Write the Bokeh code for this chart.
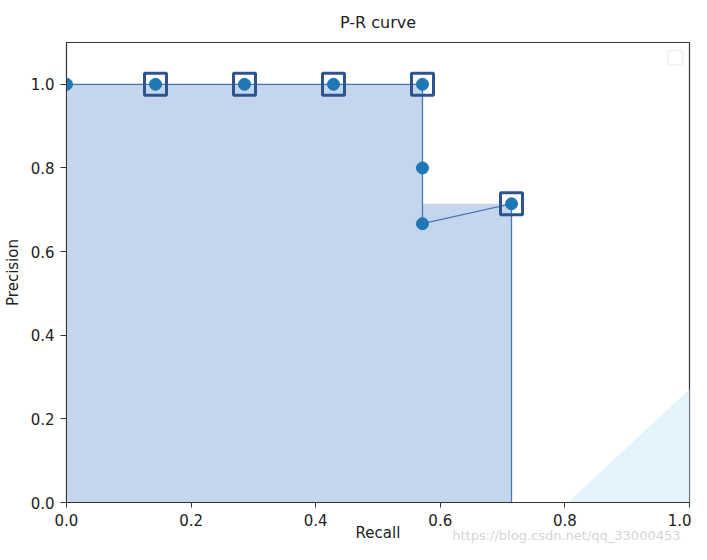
from bokeh.plotting import figure
from bokeh.embed import file_html
from bokeh.resources import INLINE
from bokeh.models import FixedTicker, Range1d, Title, BoxAnnotation, PolyAnnotation, PrintfTickFormatter

recall = [0.0, 0.1429, 0.2857, 0.4286, 0.5714, 0.5714, 0.5714, 0.7143]
precision = [1.0, 1.0, 1.0, 1.0, 1.0, 0.8, 0.6667, 0.7143]

interp_recall = [0.1429, 0.2857, 0.4286, 0.5714, 0.7143]
interp_precision = [1.0, 1.0, 1.0, 1.0, 0.7143]

fill_recall = [0.0, 0.1429, 0.2857, 0.4286, 0.5714, 0.7143]
fill_precision = [1.0, 1.0, 1.0, 1.0, 0.7143, 0.7143]

ticks = [0.0, 0.2, 0.4, 0.6, 0.8, 1.0]

FONT = "DejaVu Sans"

p = figure(width=691, height=544, output_backend="svg", toolbar_location=None,
           x_range=Range1d(0, 1), y_range=Range1d(0, 1.1),
           title="P-R curve", min_border_left=61, min_border_right=2,
           min_border_top=34, min_border_bottom=40)
p.title.align = "center"
p.title.text_font = FONT
p.title.text_font_size = "16px"
p.title.text_font_style = "normal"
p.title.text_color = "#222222"
p.title.standoff = 21

p.xgrid.visible = False
p.ygrid.visible = False
p.outline_line_color = "#333333"
p.outline_line_width = 1.2

for ax in (p.xaxis[0], p.yaxis[0]):
    ax.ticker = FixedTicker(ticks=ticks)
    ax.formatter = PrintfTickFormatter(format="%.1f")
    ax.minor_tick_line_color = None
    ax.major_tick_in = 0
    ax.major_tick_out = 6
    ax.major_label_text_font = FONT
    ax.major_label_text_font_size = "15px"
    ax.major_label_text_color = "#222222"
    ax.axis_label_text_font = FONT
    ax.axis_label_text_font_size = "15px"
    ax.axis_label_text_font_style = "normal"
    ax.axis_label_text_color = "#222222"
    ax.axis_line_color = "#333333"
    ax.major_tick_line_color = "#333333"
    ax.major_label_standoff = 6

p.xaxis.axis_label = "Recall"
p.yaxis.axis_label = "Precision"
p.xaxis.major_tick_out = 5
p.xaxis.major_label_standoff = 6
p.xaxis.axis_label_standoff = -5
p.yaxis.axis_label_standoff = 6

# light-blue corner of the screenshot overlay
p.add_layout(PolyAnnotation(xs=[439, 641, 641], ys=[-58, 130, -58],
                            xs_units="screen", ys_units="screen",
                            fill_color="#d9effb", fill_alpha=0.7,
                            line_color=None, level="underlay"))

p.varea_step(x=fill_recall, y1=[0] * len(fill_recall), y2=fill_precision,
             step_mode="after", fill_color="#c5d5ec", fill_alpha=1.0)

p.line(recall + [recall[-1]], precision + [0.0], line_color="#4a76b8", line_width=1.3)

p.scatter(recall, precision, marker="circle", size=12, fill_color="#1f77b4",
          line_color="#1f77b4")

p.scatter(interp_recall, interp_precision, marker="square", size=22,
          fill_color=None, line_color="#2c5590", line_width=3)

# empty legend frame (top right)
p.add_layout(BoxAnnotation(left=0.965, right=0.989, top=1.081, bottom=1.047,
                           fill_color="white", fill_alpha=1.0,
                           line_color="#d0d0d0", line_width=1.5, border_radius=3))

# watermark
wm = Title(text="https://blog.csdn.net/qq_33000453", align="right",
           text_font=FONT, text_font_size="13px", text_font_style="normal",
           text_color="#d0d6db", standoff=-34, offset=9, vertical_align="top")
p.add_layout(wm, "below")

open("out.html", "w").write(file_html(p, INLINE))
